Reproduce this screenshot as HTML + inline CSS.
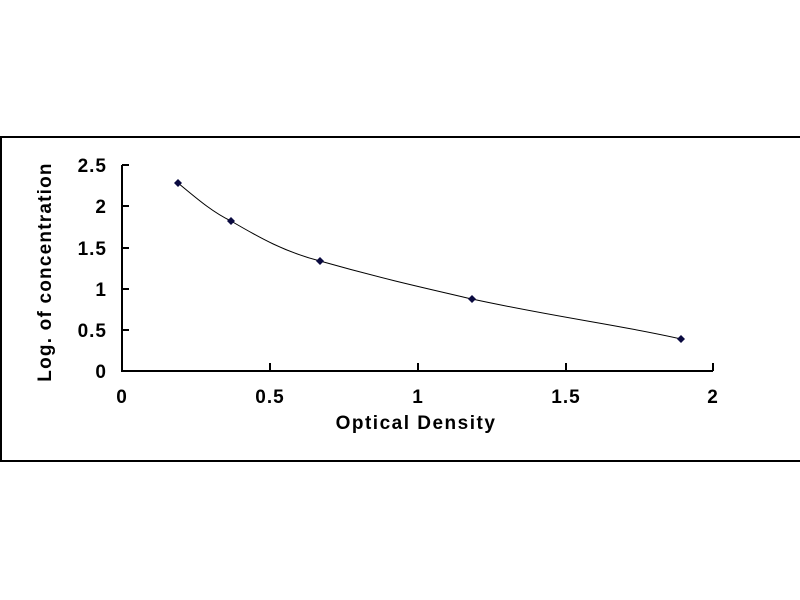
<!DOCTYPE html>
<html><head><style>
html,body{margin:0;padding:0;background:#fff;}
svg{display:block;font-family:"Liberation Sans",Arial,sans-serif;font-weight:bold;}
</style></head><body>
<svg width="800" height="600" viewBox="0 0 800 600">
<rect width="800" height="600" fill="#fff"/>
<rect x="1" y="137" width="805" height="324" fill="none" stroke="#000" stroke-width="2"/>
<g stroke="#000" stroke-width="2" fill="none">
<path d="M122 165V371H713"/>
<path d="M122 165h7M122 206h7M122 248h7M122 289h7M122 330h7"/>
<path d="M270 371v-8M418 371v-8M566 371v-8M713 371v-8"/>
</g>
<g font-size="19" fill="#000" text-anchor="end" letter-spacing="1">
<text x="107" y="172">2.5</text>
<text x="107" y="213">2</text>
<text x="107" y="255">1.5</text>
<text x="107" y="296">1</text>
<text x="107" y="337">0.5</text>
<text x="107" y="378">0</text>
</g>
<g font-size="19" fill="#000" text-anchor="middle" letter-spacing="1">
<text x="122" y="403">0</text>
<text x="270" y="403">0.5</text>
<text x="418" y="403">1</text>
<text x="566" y="403">1.5</text>
<text x="713" y="403">2</text>
</g>
<g font-size="19" fill="#000" text-anchor="middle">
<text x="416" y="429" letter-spacing="1.5">Optical Density</text>
<text transform="translate(51,272) rotate(-90)" letter-spacing="1.2">Log. of concentration</text>
</g>
<path d="M178 183 C195 197 212 212 231 221 C260 238 285 252 320 261 C380 278 420 287 472 299 C560 318 620 325 681 339" fill="none" stroke="#000" stroke-width="1"/>
<g fill="#0a0a40">
<path d="M178 179l4 4-4 4-4-4z"/>
<path d="M231 217l4 4-4 4-4-4z"/>
<path d="M320 257l4 4-4 4-4-4z"/>
<path d="M472 295l4 4-4 4-4-4z"/>
<path d="M681 335l4 4-4 4-4-4z"/>
</g>
</svg>
</body></html>
